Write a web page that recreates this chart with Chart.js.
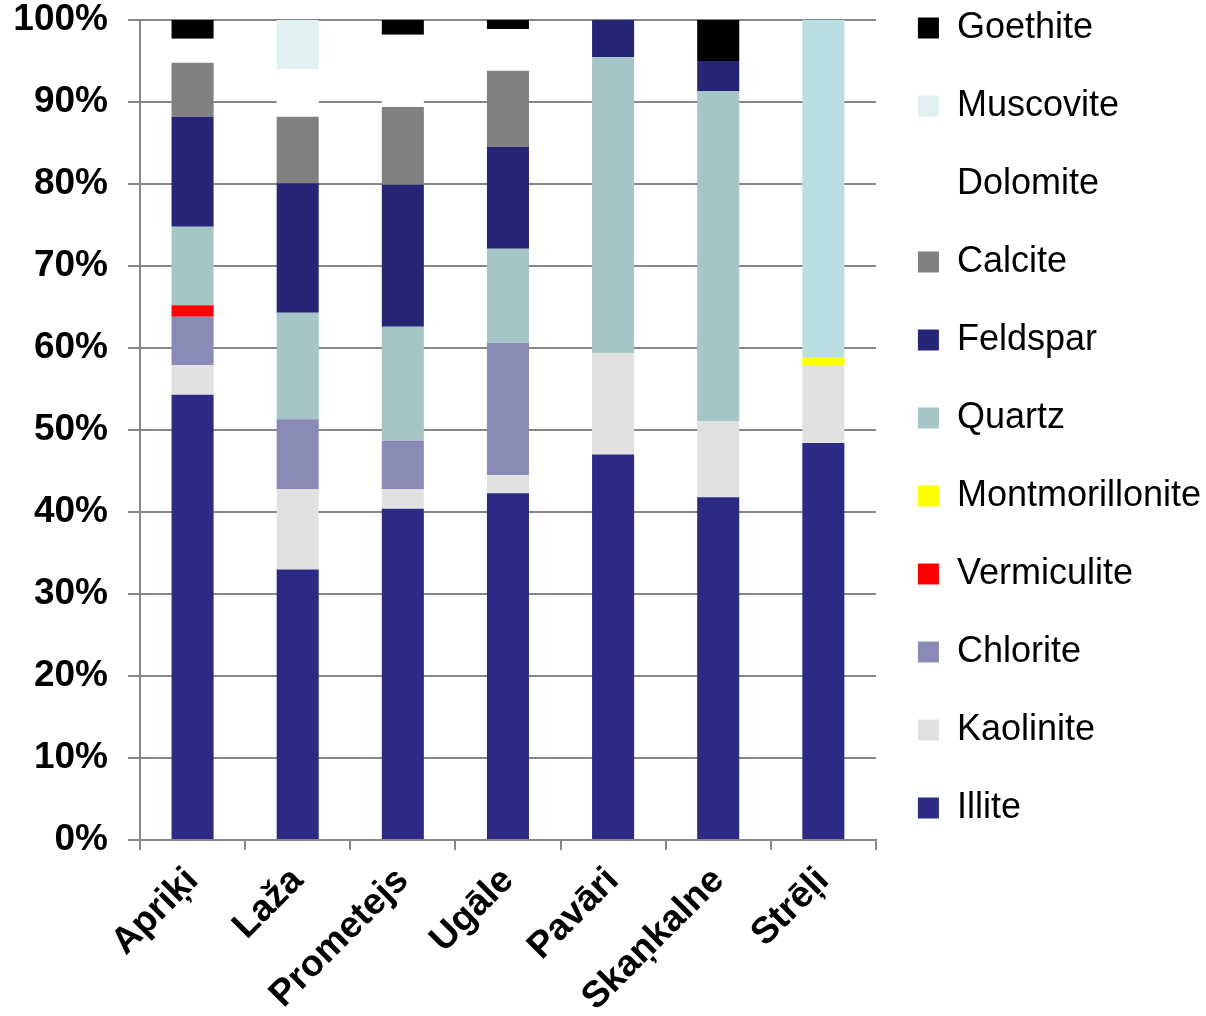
<!DOCTYPE html>
<html>
<head>
<meta charset="utf-8">
<script src="https://cdn.jsdelivr.net/npm/chart.js@4.4.1/dist/chart.umd.min.js"></script>
<style>
  html, body { margin: 0; padding: 0; background: #fff; }
  #wrap { width: 1206px; height: 1016px; position: relative; }
</style>
</head>
<body>
<div id="wrap"><canvas id="myChart"></canvas></div>
<script>
// sites
const sites = ["Apriķi", "Laža", "Prometejs", "Ugāle", "Pavāri", "Skaņkalne", "Strēļi"];

// mineral shares, %
const illite          = [54.3, 33.0, 40.4, 42.3, 47.0, 41.8, 48.4];
const kaolinite       = [3.6, 9.8, 2.4, 2.2, 12.4, 9.3, 9.5];
const chlorite        = [5.9, 8.5, 5.9, 16.1, 0, 0, 0];
const vermiculite     = [1.4, 0, 0, 0, 0, 0, 0];
const montmorillonite = [0, 0, 0, 0, 0, 0, 0.9];
const quartz          = [9.6, 13.0, 13.9, 11.5, 36.1, 40.2, 0];
const feldspar        = [13.4, 15.8, 17.3, 12.4, 4.5, 3.7, 0];
const calcite         = [6.6, 8.1, 9.5, 9.3, 0, 0, 0];
const dolomite        = [2.9, 5.8, 8.8, 5.1, 0, 0, 0];
const muscovite       = [0, 6.0, 0, 0, 0, 0, 41.2];
const goethite        = [2.3, 0, 1.8, 1.1, 0, 5.0, 0];

const yTicks = [0, 10, 20, 30, 40, 50, 60, 70, 80, 90, 100];

Chart.defaults.font.family = 'Arial, "Liberation Sans", sans-serif';
Chart.defaults.color = '#000';

function ds(label, data, color) {
  return {
    label: label,
    data: data,
    backgroundColor: color,
    borderWidth: 0,
    barPercentage: 0.4,
    categoryPercentage: 1,
  };
}

const ctx = document.getElementById("myChart");

const myChart = new Chart(ctx, {
  type: "bar",
  data: {
    labels: sites,
    datasets: [
      ds("Illite", illite, "#2B2B85"),
      ds("Kaolinite", kaolinite, "#E1E1E1"),
      ds("Chlorite", chlorite, "#8A8AB7"),
      ds("Vermiculite", vermiculite, "#FF0000"),
      ds("Montmorillonite", montmorillonite, "#FFFF00"),
      ds("Quartz", quartz, "#A5C5C7"),
      ds("Feldspar", feldspar, "#262677"),
      ds("Calcite", calcite, "#808080"),
      ds("Dolomite", dolomite, "#FFFFFF"),
      // Strēļi top is drawn a stronger blue in the original
      ds("Muscovite", muscovite, function(c) {
        return c.dataIndex === 6 ? "#B9DFE3" : "#E1F0F1";
      }),
      ds("Goethite", goethite, "#000000"),
    ],
  },
  options: {
    responsive: true,
    maintainAspectRatio: false,
    animation: false,
    layout: {
      // left is negative so the legend is allowed to be wide enough;
      // the y axis width is set back in afterFit
      padding: { top: -32, left: -200, right: -5, bottom: 0 }
    },
    plugins: {
      tooltip: { enabled: false },
      legend: {
        display: true,
        position: "right",
        align: "start",
        reverse: true,
        labels: {
          boxWidth: 21,
          boxHeight: 21,
          padding: 42,
          color: "#000",
          font: { size: 36 },
        },
      },
    },
    scales: {
      x: {
        stacked: true,
        afterFit: function(axis) {
          axis.height = 176;
        },
        grid: {
          drawOnChartArea: false,
          drawTicks: true,
          tickLength: 10,
          color: "#878787",
          lineWidth: 2,
        },
        border: { color: "#878787", width: 2 },
        ticks: {
          autoSkip: false,
          maxRotation: 45,
          minRotation: 45,
          padding: 9,
          color: "#000",
          font: { size: 37, weight: "bold" },
        },
      },
      y: {
        stacked: true,
        min: 0,
        max: 100,
        afterBuildTicks: function(axis) {
          axis.ticks = yTicks.map(v => ({ value: v }));
        },
        afterFit: function(axis) {
          axis.width = 340;
          axis.paddingTop = 20;
        },
        grid: {
          color: "#878787",
          lineWidth: 2,
          tickLength: 12,
        },
        border: { color: "#878787", width: 2 },
        ticks: {
          padding: 20,
          color: "#000",
          font: { size: 37, weight: "bold" },
          callback: function(v) { return v + "%"; },
        },
      },
    },
  },
});
</script>
</body>
</html>
